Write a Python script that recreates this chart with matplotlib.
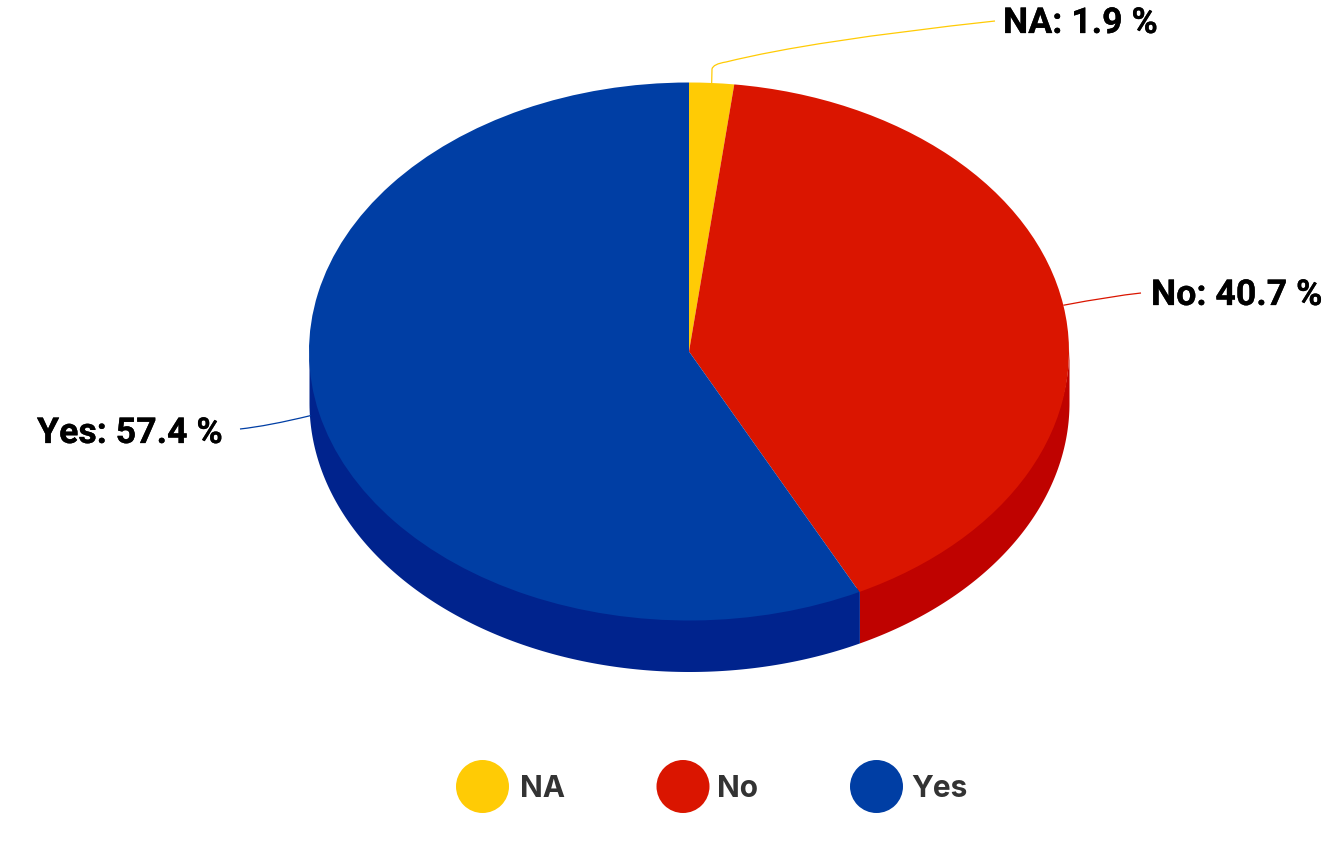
import numpy as np
import matplotlib
matplotlib.use("Agg")
import matplotlib.pyplot as plt
import matplotlib.patheffects as pe
from matplotlib.path import Path
from matplotlib.patches import PathPatch, Ellipse

categories = ["NA", "No", "Yes"]
values = [1.9, 40.7, 57.4]
top_colors = ["#FFCB05", "#DA1500", "#003EA4"]
side_colors = ["#D9AD00", "#BF0200", "#00238D"]

W, H = 1324, 844
CX, CY, RX, RY, DEPTH = 689.0, 351.5, 380.0, 269.0, 51.0

fig = plt.figure(figsize=(W / 100, H / 100), dpi=100, facecolor="white")
ax = fig.add_axes([0, 0, 1, 1])

# top face: ordinary pie, stretched into an ellipse by non-equal axis scales
wedges, _ = ax.pie(values, colors=top_colors, startangle=90, counterclock=False,
                   radius=1.0, wedgeprops=dict(linewidth=0, zorder=5))
ax.set_aspect("auto")
ax.set_xlim((0 - CX) / RX, (W - CX) / RX)
ax.set_ylim((CY - H) / RY, CY / RY)
ax.axis("off")

# side wall of the front half
d = DEPTH / RY
edges = np.concatenate([[0], np.cumsum(values)]) / sum(values) * 360.0
for a0, a1, c in zip(edges[:-1], edges[1:], side_colors):
    lo, hi = max(a0, 90.0), min(a1, 270.0)
    if hi <= lo:
        continue
    th = np.radians(np.linspace(lo, hi, 240))
    ax.fill_between(np.sin(th), np.cos(th) - d, np.cos(th) + 0.02,
                    color=c, linewidth=0, zorder=2)


def px(x, y):
    return (x - CX) / RX, (CY - y) / RY


def anchor(i):
    mid = np.radians((edges[i] + edges[i + 1]) / 2)
    return CX + RX * np.sin(mid), CY - RY * np.cos(mid)


leader_tails = {
    "NA": [(712, 69), (713, 64), (726, 62), (810, 41), (995, 21)],
    "No": [(1112, 296), (1141, 293)],
    "Yes": [(268, 426), (240, 429)],
}
label_pos = {"NA": (1003, 33), "No": (1151, 305), "Yes": (37, 443)}

for i, cat in enumerate(categories):
    sx, sy = anchor(i)
    if cat == "Yes":
        sx, sy = 311, 415.5
    tail = leader_tails[cat]
    if cat == "NA":
        verts = [(sx, sy)] + tail
        codes = [Path.MOVETO, Path.LINETO, Path.CURVE3, Path.CURVE3, Path.CURVE3, Path.CURVE3]
    else:
        verts = [(sx, sy)] + tail
        codes = [Path.MOVETO, Path.CURVE3, Path.CURVE3]
    ax.add_patch(PathPatch(Path([px(*v) for v in verts], codes), fc="none",
                           ec=top_colors[i], lw=0.9, zorder=3 if cat == "Yes" else 6))
    lx, ly = label_pos[cat]
    ax.text(*px(lx, ly), f"{cat}: {values[i]} %", family="Roboto", weight="bold",
            fontsize=25.7, color="black", ha="left", va="baseline", zorder=7,
            path_effects=[pe.withStroke(linewidth=0.2, foreground="black")])

# legend
legend_cx = [482.5, 683, 876.5]
legend_tx = [520, 717, 911]
for c, cx, tx, cat in zip(top_colors, legend_cx, legend_tx, categories):
    ax.add_patch(Ellipse(px(cx, 786.5), 53 / RX, 53 / RY, fc=c, ec="none", zorder=5))
    ax.text(*px(tx, 797), cat, family="Inter", weight="bold", fontsize=21.5,
            color="#333333", ha="left", va="baseline", zorder=7)

fig.savefig("out.png", dpi=100, facecolor="white")
